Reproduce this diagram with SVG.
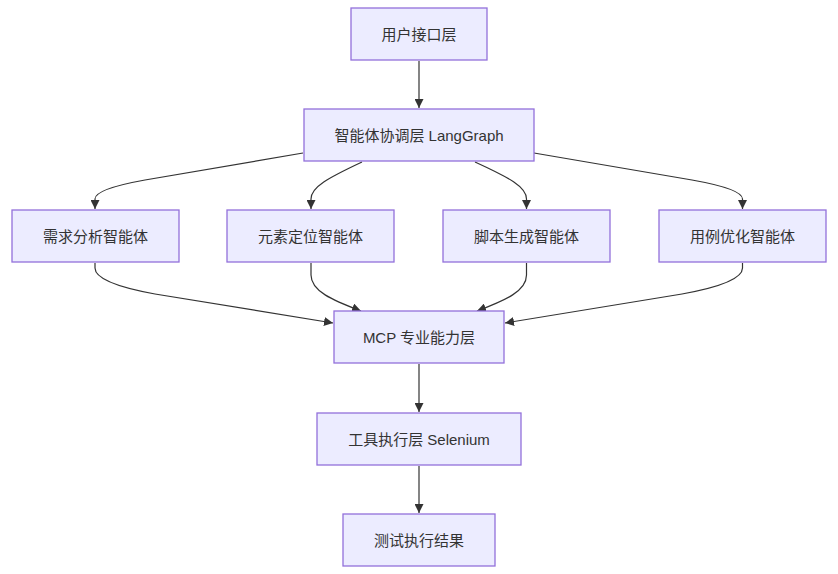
<svg xmlns="http://www.w3.org/2000/svg" width="838" height="574" viewBox="0 0 838 574">
<style>
.node rect{fill:#ECECFF;stroke:#9370DB;stroke-width:1.3}
.node text{font-family:"Liberation Sans","Noto Sans CJK SC",sans-serif;font-size:15px;fill:#333;text-anchor:middle;dominant-baseline:central}
.edges path{fill:none;stroke:#333;stroke-width:1.2}
</style>
<defs>
<marker id="arr" viewBox="0 0 10 10" refX="10" refY="5" markerWidth="9" markerHeight="9" markerUnits="userSpaceOnUse" orient="auto">
<path d="M0,0 L10,5 L0,10 z" fill="#333"/>
</marker>
</defs>
<rect width="838" height="574" fill="#fff"/>
<g class="edges">
<path d="M419,61 L419,108" marker-end="url(#arr)"/>
<path d="M303,153 L145,180 Q95,189 95,199 L95,209" marker-end="url(#arr)"/>
<path d="M362,162 C328,178 311,187 311,199 L311,209" marker-end="url(#arr)"/>
<path d="M475,162 C510,178 526.5,187 526.5,199 L526.5,209" marker-end="url(#arr)"/>
<path d="M534,153 L692,180 Q742.5,189 742.5,199 L742.5,209" marker-end="url(#arr)"/>
<path d="M95,263 L95,268 Q95,283 155,294 L333,323" marker-end="url(#arr)"/>
<path d="M311,263 L311,275 C311,291 332,300 361,311" marker-end="url(#arr)"/>
<path d="M526.5,263 L526.5,275 C526.5,291 506,300 477,311" marker-end="url(#arr)"/>
<path d="M742.5,263 L742.5,268 Q742.5,283 682,294 L505,323" marker-end="url(#arr)"/>
<path d="M419,364 L419,412" marker-end="url(#arr)"/>
<path d="M419,466 L419,513" marker-end="url(#arr)"/>
</g>
<g id="n1" class="node"><rect x="351" y="8" width="136" height="52"/><text x="419" y="34">用户接口层</text></g>
<g id="n2" class="node"><rect x="304" y="109" width="230" height="52"/><text x="419" y="135">智能体协调层 LangGraph</text></g>
<g id="n3" class="node"><rect x="12" y="210" width="167" height="52"/><text x="95.5" y="236">需求分析智能体</text></g>
<g id="n4" class="node"><rect x="227" y="210" width="167" height="52"/><text x="310.5" y="236">元素定位智能体</text></g>
<g id="n5" class="node"><rect x="443" y="210" width="167" height="52"/><text x="526.5" y="236">脚本生成智能体</text></g>
<g id="n6" class="node"><rect x="659" y="210" width="167" height="52"/><text x="742.5" y="236">用例优化智能体</text></g>
<g id="n7" class="node"><rect x="334" y="311" width="170" height="52"/><text x="419" y="337">MCP 专业能力层</text></g>
<g id="n8" class="node"><rect x="317" y="413" width="204" height="52"/><text x="419" y="439">工具执行层 Selenium</text></g>
<g id="n9" class="node"><rect x="343" y="514" width="152" height="52"/><text x="419" y="540">测试执行结果</text></g>
</svg>
